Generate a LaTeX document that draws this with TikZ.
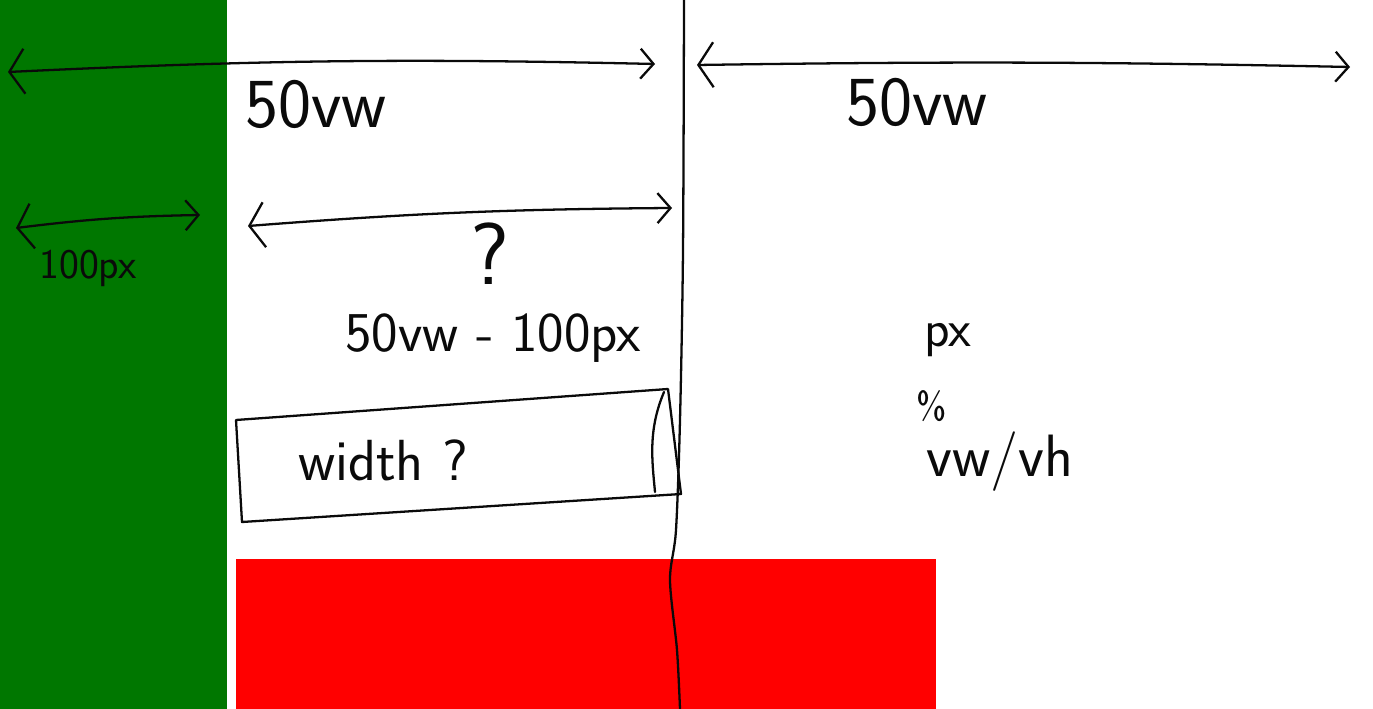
\documentclass[tikz,border=0pt]{standalone}
\usetikzlibrary{arrows.meta}
\definecolor{SideGreen}{HTML}{007700}
\definecolor{BarRed}{HTML}{FF0000}
\definecolor{Pen}{HTML}{0A0A0A}

\begin{document}
\begin{tikzpicture}[x=0.02cm, y=-0.02cm,
    pen/.style={draw=Pen, line width=1.3pt, line cap=round, line join=round},
    span/.style={pen, {Straight Barb[length=3mm,width=9mm]}-{Straight Barb[length=2.6mm,width=6mm]}},
    hand/.style={font=\sffamily, inner sep=0pt, text=Pen}]
  \useasboundingbox (0,0) rectangle (1373,709);
  \fill[white] (0,0) rectangle (1373,709);

  % page areas
  \fill[SideGreen] (0,0) rectangle (227,709);
  \fill[BarRed] (236,559) rectangle (936,709);
  \draw[pen] plot[smooth] coordinates {(684,0) (683,250) (680,420) (676,530) (670,580) (677,650) (680,709)};

  % top spans
  \coordinate (vwL1) at (8,72);
  \coordinate (vwR1) at (655,64);
  \coordinate (vwL2) at (697,65);
  \coordinate (vwR2) at (1350,67);
  \draw[span] (vwL1) to[bend left=2] (vwR1);
  \draw[span] (vwL2) to[bend left=1] (vwR2);
  \node[hand, font=\sffamily\fontsize{40}{44}\selectfont] (vw1) at (316,104) {50vw};
  \node[hand, font=\sffamily\fontsize{40}{44}\selectfont] (vw2) at (917,102) {50vw};

  % second row spans
  \coordinate (pxL) at (16,228);
  \coordinate (pxR) at (200,215);
  \coordinate (restL) at (248,226);
  \coordinate (restR) at (672,208);
  \draw[span] (pxL) to[bend left=3] (pxR);
  \draw[span] (restL) to[bend left=2] (restR);
  \node[hand, font=\sffamily\fontsize{24}{26}\selectfont] (px100) at (88,268) {100px};
  \node[hand, font=\sffamily\fontsize{50}{52}\selectfont] (ask) at (490,254) {?};
  \node[hand, font=\sffamily\fontsize{32}{34}\selectfont] (diff) at (493,338) {50vw - 100px};

  % element box
  \draw[pen] (236,420) -- (668,389) -- (681,494) -- (242,522) -- cycle;
  \draw[pen] (664,392) .. controls (648,430) and (652,460) .. (655,492);
  \node[hand, font=\sffamily\fontsize{33}{35}\selectfont] (width) at (383,460) {width ?};

  % units
  \node[hand, font=\sffamily\fontsize{30}{32}\selectfont] (unitpx) at (948,340) {px};
  \node[hand, font=\sffamily\fontsize{22}{24}\selectfont] (unitpc) at (932,406) {\%};
  \node[hand, font=\sffamily\fontsize{34}{36}\selectfont] (unitvw) at (1000,462) {vw/vh};
\end{tikzpicture}
\end{document}
